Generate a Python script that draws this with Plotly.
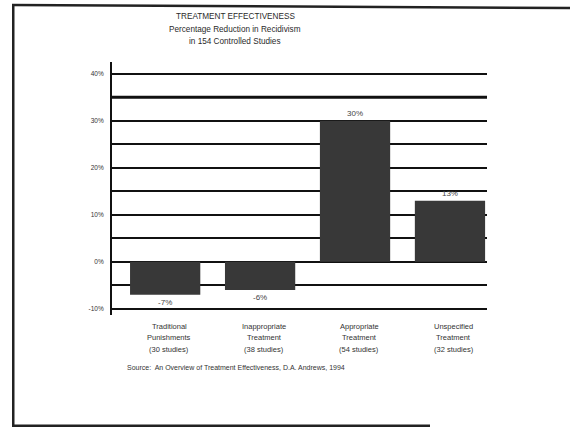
import plotly.graph_objects as go

categories = [
    "Traditional<br>Punishments<br>(30 studies)",
    "Inappropriate<br>Treatment<br>(38 studies)",
    "Appropriate<br>Treatment<br>(54 studies)",
    "Unspecified<br>Treatment<br>(32 studies)",
]
values = [-7, -6, 30, 13]
value_labels = ["-7%", "-6%", "30%", "13%"]
y_tickvals = [-10, 0, 10, 20, 30, 40]
y_ticktext = ["-10%", "0%", "10%", "20%", "30%", "40%"]
heavy_gridlines = [35]

title_lines = ["TREATMENT EFFECTIVENESS",
               "Percentage Reduction in Recidivism",
               "in 154 Controlled Studies"]
source_text = "Source:  An Overview of Treatment Effectiveness, D.A. Andrews, 1994"

FONT = "Liberation Sans, Arial, sans-serif"
INK = "#2a2a2a"

# plot area: x 112..487 px, y 62..315 px (from top)
PX_W, PX_H, TOP, BOT, LEFT = 375.0, 253.0, 62.0, 315.0, 112.0


def py(ypix):
    return (BOT - ypix) / PX_H


def px(xpix):
    return (xpix - LEFT) / PX_W


fig = go.Figure()
fig.add_trace(go.Bar(
    x=categories,
    y=values,
    width=0.74,
    marker=dict(color="#383838", line=dict(width=0)),
    text=value_labels,
    textposition="outside",
    textfont=dict(family=FONT, size=8, color="#444444"),
    cliponaxis=False,
))

annotations = []
for i, line in enumerate(title_lines):
    annotations.append(dict(
        text=line, xref="paper", yref="paper",
        x=px(235), y=py(17 + 12 * i), xanchor="center", yanchor="middle",
        showarrow=False, font=dict(family=FONT, size=8.2, color=INK)))

for cat in categories:
    for j, line in enumerate(cat.split("<br>")):
        annotations.append(dict(
            text=line, xref="x", yref="paper",
            x=cat, y=py(326 + 11.5 * j), xanchor="center", yanchor="middle",
            xshift=4,
            showarrow=False, font=dict(family=FONT, size=7.5, color="#333333")))

annotations.append(dict(
    text=source_text, xref="paper", yref="paper",
    x=px(125), y=py(367), xanchor="left", yanchor="middle",
    showarrow=False, font=dict(family=FONT, size=7, color="#333333")))

frame_color = "#222222"
shapes = [
    dict(type="line", xref="paper", yref="y", x0=0, x1=1, y0=g, y1=g,
         layer="below", line=dict(color="#111111", width=3))
    for g in heavy_gridlines
]
shapes += [
    dict(type="line", xref="paper", yref="paper",
         x0=px(12), x1=px(572), y0=py(5), y1=py(8),
         line=dict(color=frame_color, width=2.5)),
    dict(type="rect", xref="paper", yref="paper",
         x0=px(12), x1=px(14.5), y0=py(427), y1=py(4),
         fillcolor=frame_color, line=dict(width=0)),
    dict(type="rect", xref="paper", yref="paper",
         x0=px(12), x1=px(430), y0=py(427), y1=py(424.5),
         fillcolor=frame_color, line=dict(width=0)),
]

fig.update_layout(
    width=570, height=429,
    margin=dict(l=112, r=83, t=62, b=114),
    paper_bgcolor="white",
    plot_bgcolor="white",
    showlegend=False,
    xaxis=dict(
        type="category",
        range=[-0.56, 3.39],
        showgrid=False,
        showline=False,
        ticks="",
        showticklabels=False,
        zeroline=False,
    ),
    yaxis=dict(
        range=[-11.3, 42.5],
        tickvals=y_tickvals,
        ticktext=y_ticktext,
        tickfont=dict(family=FONT, size=6.5, color="#333333"),
        showgrid=True,
        gridcolor="#111111",
        gridwidth=1.5,
        minor=dict(dtick=5, tick0=0, showgrid=True, gridcolor="#111111", gridwidth=1.5),
        zeroline=True,
        zerolinecolor="#111111",
        zerolinewidth=2,
        showline=True,
        linecolor="#111111",
        linewidth=2,
        ticks="",
        ticklabelstandoff=5,
    ),
    annotations=annotations,
    shapes=shapes,
)

fig.write_html("out.html", config={"displayModeBar": False})
